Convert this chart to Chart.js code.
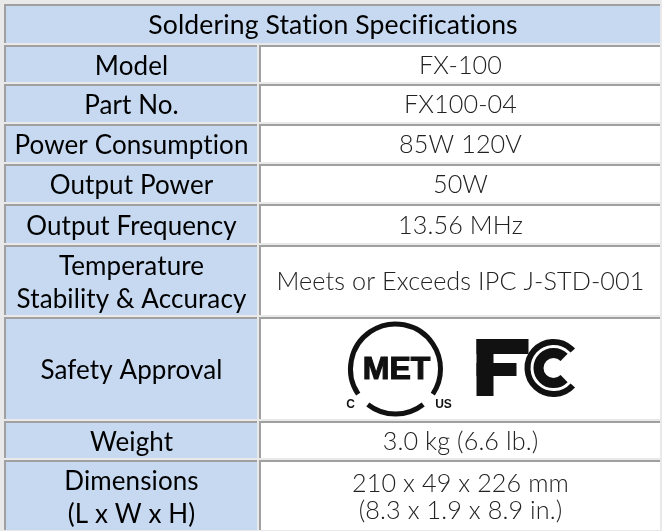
<!DOCTYPE html>
<html>
<head>
<meta charset="utf-8">
<script src="https://cdn.jsdelivr.net/npm/chart.js@4.4.1/dist/chart.umd.min.js"></script>
<style>
  html, body { margin: 0; padding: 0; background: #e9e9e9; }
  #wrap { width: 662px; height: 531px; }
</style>
</head>
<body>
<div id="wrap"><canvas id="chart" width="662" height="531"></canvas></div>
<script>
// table content
const title = 'Soldering Station Specifications';
const specNames = [
  ['Model'], ['Part No.'], ['Power Consumption'], ['Output Power'], ['Output Frequency'],
  ['Temperature', 'Stability & Accuracy'], ['Safety Approval'], ['Weight'], ['Dimensions', '(L x W x H)']
];
const specValues = [
  ['FX-100'], ['FX100-04'], ['85W 120V'], ['50W'], ['13.56 MHz'],
  ['Meets or Exceeds IPC J-STD-001'], [], ['3.0 kg (6.6 lb.)'], ['210 x 49 x 226 mm', '(8.3 x 1.9 x 8.9 in.)']
];
const approvals = ['MET', 'FC'];

// layout (scale units == px)
const tableTop = 4, tableLeft = 4;
const rowHeights = [41, 39, 40, 40, 40, 41, 72, 104, 39, 72];
const colWidths = [255, 403];

const BLUE = '#c6d9f1', DARK = '#a0a0a0', LIGHT = '#e9e9e9';

const tablePlugin = {
  id: 'specTable',
  afterDraw(chart) {
    const ctx = chart.ctx, xs = chart.scales.x, ys = chart.scales.y;
    const px = v => xs.getPixelForValue(v), py = v => ys.getPixelForValue(v);

    ctx.save();
    ctx.fillStyle = LIGHT;
    ctx.fillRect(0, 0, chart.width, chart.height);

    const cell = (x0, y0, x1, y1, bg) => {
      const a = px(x0), b = py(y0), c = px(x1), d = py(y1);
      ctx.fillStyle = bg;
      ctx.fillRect(a, b, c - a - 2, d - b - 2);
      ctx.fillStyle = DARK;
      ctx.fillRect(a, b, c - a - 2, 2);
      ctx.fillRect(a, b, 2, d - b - 2);
    };

    // no ligatures (Lato joins "ti" / "fi" otherwise)
    ctx.textRendering = 'optimizeSpeed';
    ctx.letterSpacing = '0.1px';

    const text = (lines, cx, cy, font, color, gap) => {
      ctx.font = font;
      ctx.fillStyle = color;
      ctx.textAlign = 'center';
      ctx.textBaseline = 'alphabetic';
      const capH = ctx.measureText('H').actualBoundingBoxAscent;
      const first = cy - (lines.length - 1) * gap / 2 + capH / 2;
      lines.forEach((t, i) => ctx.fillText(t, cx, first + i * gap));
    };

    const xL = tableLeft, xM = xL + colWidths[0], xR = xM + colWidths[1];
    const leftFont = '400 26px Lato', rightFont = '300 25.2px Lato';

    // header
    let y = tableTop;
    cell(xL, y, xR, y + rowHeights[0], BLUE);
    text([title], px((xL + xR) / 2), py(y + rowHeights[0] / 2), '400 26.6px Lato', '#000', 33);
    y += rowHeights[0];

    specNames.forEach((name, i) => {
      const h = rowHeights[i + 1];
      cell(xL, y, xM, y + h, BLUE);
      cell(xM, y, xR, y + h, '#ffffff');
      const cy = py(y + h / 2);
      text(name, px((xL + xM) / 2), cy, leftFont, '#000', 33);
      if (specValues[i].length) {
        text(specValues[i], px((xM + xR) / 2), cy, rightFont, '#222222', 27);
      } else {
        drawApprovals(ctx, px((xM + xR) / 2), cy);
      }
      y += h;
    });
    ctx.restore();
  }
};

function drawApprovals(ctx, cx, cy) {
  const deg = Math.PI / 180;
  ctx.save();
  ctx.letterSpacing = '0px';
  ctx.strokeStyle = '#111';
  ctx.fillStyle = '#111';

  // MET mark
  const mx = cx - 65, my = cy;
  ctx.lineWidth = 5;
  ctx.beginPath(); ctx.arc(mx, my, 45, 52 * deg, 128 * deg); ctx.stroke();
  ctx.beginPath(); ctx.arc(mx, my, 45, 146 * deg, 394 * deg); ctx.stroke();
  ctx.textAlign = 'center';
  ctx.textBaseline = 'middle';
  ctx.font = 'bold 32px "Liberation Sans"';
  ctx.lineWidth = 1.2;
  ctx.fillText(approvals[0], mx + 1, my + 1);
  ctx.strokeText(approvals[0], mx + 1, my + 1);
  ctx.font = 'bold 12px "Liberation Sans"';
  ctx.fillText('C', mx - 45, my + 36);
  ctx.fillText('US', mx + 48, my + 36);

  // FC mark
  const fx = cx + 16, fy = cy - 30;
  ctx.fillRect(fx, fy, 17, 57);
  ctx.fillRect(fx, fy, 52, 15);
  ctx.fillRect(fx, fy + 24, 40, 13);
  const ccx = fx + 77, ccy = fy + 29;
  ctx.lineWidth = 6;
  ctx.beginPath(); ctx.arc(ccx, ccy, 26, 42 * deg, 318 * deg); ctx.stroke();
  ctx.lineWidth = 10;
  ctx.beginPath(); ctx.arc(ccx, ccy, 15, 45 * deg, 315 * deg); ctx.stroke();
  ctx.restore();
}

new Chart(document.getElementById('chart'), {
  type: 'scatter',
  data: { datasets: [] },
  options: {
    responsive: false,
    animation: false,
    layout: { padding: 0 },
    plugins: { legend: { display: false }, tooltip: { enabled: false } },
    scales: {
      x: { type: 'linear', display: false, min: 0, max: 662 },
      y: { type: 'linear', display: false, min: 0, max: 531, reverse: true }
    }
  },
  plugins: [tablePlugin]
});
</script>
</body>
</html>
